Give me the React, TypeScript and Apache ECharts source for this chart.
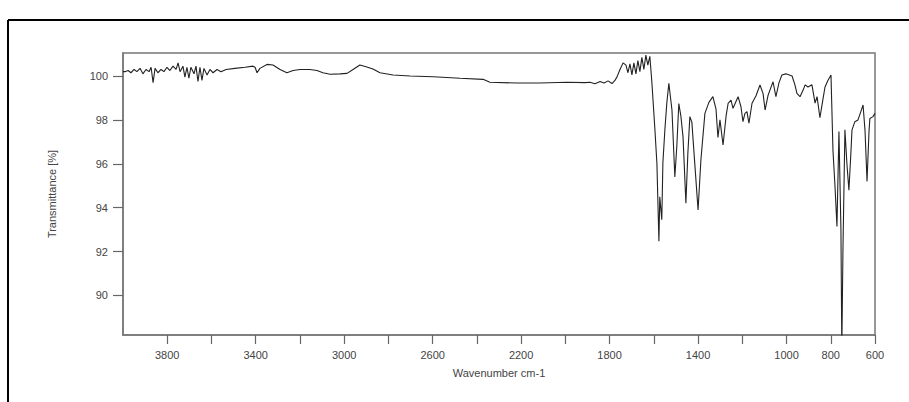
import React, { useEffect, useRef } from "react";
import * as echarts from "echarts";

const wavenumbers: number[] = [
  4000, 3991, 3977, 3964, 3950, 3937, 3923, 3910, 3896, 3882, 3873, 3864, 3855, 3842, 3828, 3815, 3801, 3788, 3774, 3760,
  3751, 3742, 3729, 3720, 3711, 3702, 3693, 3679, 3670, 3661, 3652, 3643, 3634, 3620, 3607, 3593, 3575, 3557, 3534, 3494,
  3448, 3412, 3403, 3394, 3381, 3349, 3322, 3290, 3259, 3231, 3200, 3155, 3123, 3096, 3064, 3019, 2987, 2960, 2929, 2901,
  2870, 2838, 2779, 2702, 2598, 2476, 2372, 2341, 2219, 2115, 1993, 1911, 1889, 1866, 1843, 1825, 1807, 1789, 1776, 1767,
  1753, 1739, 1726, 1717, 1708, 1699, 1690, 1681, 1672, 1663, 1654, 1645, 1636, 1627, 1618, 1609, 1595, 1586, 1577, 1573,
  1564, 1559, 1550, 1541, 1532, 1518, 1505, 1496, 1487, 1478, 1468, 1455, 1446, 1437, 1428, 1419, 1400, 1387, 1369, 1351,
  1333, 1319, 1310, 1301, 1287, 1273, 1264, 1251, 1242, 1219, 1206, 1197, 1188, 1179, 1170, 1156, 1138, 1120, 1106, 1097,
  1084, 1075, 1061, 1048, 1034, 1021, 1003, 975, 962, 953, 939, 925, 916, 903, 885, 871, 862, 849, 836, 826,
  813, 799, 790, 781, 772, 763, 754, 750, 745, 736, 727, 718, 709, 704, 691, 677, 664, 654, 645, 636,
  627, 623, 609, 600,
];

const transmittance: number[] = [
  100.2, 100.2, 100.25, 100.15, 100.3, 100.2, 100.35, 100.1, 100.3, 100.2, 100.4, 99.7, 100.35, 100.15, 100.3, 100.2, 100.4, 100.25, 100.45, 100.3,
  100.6, 100.2, 100.45, 99.95, 100.4, 99.9, 100.4, 100.1, 100.45, 99.75, 100.4, 99.8, 100.35, 100.05, 100.3, 100.15, 100.3, 100.2, 100.3, 100.35,
  100.4, 100.45, 100.4, 100.15, 100.35, 100.53, 100.5, 100.3, 100.15, 100.25, 100.3, 100.3, 100.25, 100.15, 100.08, 100.1, 100.12, 100.3, 100.5, 100.42,
  100.32, 100.15, 100.05, 100.0, 99.97, 99.9, 99.85, 99.72, 99.68, 99.68, 99.72, 99.7, 99.72, 99.65, 99.75, 99.68, 99.78, 99.66, 99.8, 99.95,
  100.3, 100.6, 100.5, 100.15, 100.55, 100.05, 100.6, 100.1, 100.7, 100.2, 100.85, 100.3, 100.95, 100.5, 100.9, 99.74, 97.55, 96.0, 92.47, 94.5,
  93.45, 96.05, 97.55, 98.8, 99.67, 98.45, 95.4, 96.8, 98.75, 98.2, 97.24, 94.2, 96.5, 98.15, 97.9, 96.6, 93.9, 96.2, 98.3, 98.8,
  99.06, 98.5, 97.2, 98.0, 96.86, 98.2, 98.76, 98.9, 98.53, 99.06, 98.6, 97.92, 98.3, 98.38, 97.85, 98.76, 99.1, 99.59, 99.2, 98.45,
  99.1, 99.36, 99.74, 99.06, 99.7, 100.05, 100.1, 100.0, 99.6, 99.21, 99.06, 99.36, 99.6, 99.5, 99.6, 98.77, 99.06, 98.1, 98.9, 99.5,
  99.8, 100.05, 96.6, 95.0, 93.15, 97.47, 93.0, 87.5, 92.0, 97.55, 96.0, 94.8, 96.5, 97.55, 97.92, 98.0, 98.38, 98.68, 97.5, 95.2,
  97.5, 98.07, 98.15, 98.3,
];

const xTickValues: number[] = [600, 800, 1000, 1200, 1400, 1600, 1800, 2000, 2200, 2400, 2600, 2800, 3000, 3200, 3400, 3600, 3800];
const xLabelValues: number[] = [3800, 3400, 3000, 2600, 2200, 1800, 1400, 1000, 800, 600];
const yTickValues: number[] = [90, 92, 94, 96, 98, 100];

const xTitle = "Wavenumber cm-1";
const yTitle = "Transmittance [%]";

export default function App() {
  const ref = useRef<HTMLDivElement>(null);

  useEffect(() => {
    if (!ref.current) return;
    const chart = echarts.init(ref.current, null, { renderer: "svg" });
    const data = wavenumbers.map((w, i) => [w, transmittance[i]]);
    const font = "Liberation Sans, Arial, sans-serif";
    chart.setOption({
      animation: false,
      backgroundColor: "#ffffff",
      grid: {
        left: 123,
        top: 53,
        width: 752,
        height: 282,
        show: true,
        borderColor: "#777",
        borderWidth: 1.5,
        backgroundColor: "transparent",
      },
      xAxis: {
        type: "value",
        inverse: true,
        min: 600,
        max: 4000,
        name: xTitle,
        nameLocation: "middle",
        nameGap: 32,
        nameTextStyle: { fontFamily: font, fontSize: 11, color: "#444" },
        axisLine: { show: true, lineStyle: { color: "#777", width: 1.5 } },
        axisTick: { show: true, length: 9, inside: false, customValues: xTickValues, lineStyle: { color: "#666", width: 1.2 } },
        axisLabel: {
          customValues: xLabelValues,
          margin: 14,
          fontFamily: font,
          fontSize: 11,
          color: "#444",
          formatter: (v: number) => String(v),
        },
        splitLine: { show: false },
      },
      yAxis: {
        type: "value",
        min: 88.2,
        max: 101.05,
        name: yTitle,
        nameLocation: "middle",
        nameGap: 66,
        nameRotate: 90,
        nameTextStyle: { fontFamily: font, fontSize: 11, color: "#444" },
        axisLine: { show: true, lineStyle: { color: "#777", width: 1.5 } },
        axisTick: { show: true, length: 10, inside: false, customValues: yTickValues, lineStyle: { color: "#666", width: 1.2 } },
        axisLabel: {
          customValues: yTickValues,
          margin: 15,
          fontFamily: font,
          fontSize: 11,
          color: "#444",
          formatter: (v: number) => String(v),
        },
        splitLine: { show: false },
      },
      series: [
        {
          type: "line",
          data,
          showSymbol: false,
          symbol: "none",
          clip: true,
          lineStyle: { color: "#222", width: 1.1 },
        },
      ],
      graphic: [
        { type: "line", shape: { x1: 8, y1: 20, x2: 909, y2: 20 }, style: { stroke: "#000", lineWidth: 2 } },
        { type: "line", shape: { x1: 8, y1: 20, x2: 8, y2: 402 }, style: { stroke: "#000", lineWidth: 2 } },
      ],
    });
    return () => chart.dispose();
  }, []);

  return (
    <div
      ref={ref}
      style={{ position: "absolute", left: 0, top: 0, width: 909, height: 402 }}
    />
  );
}
